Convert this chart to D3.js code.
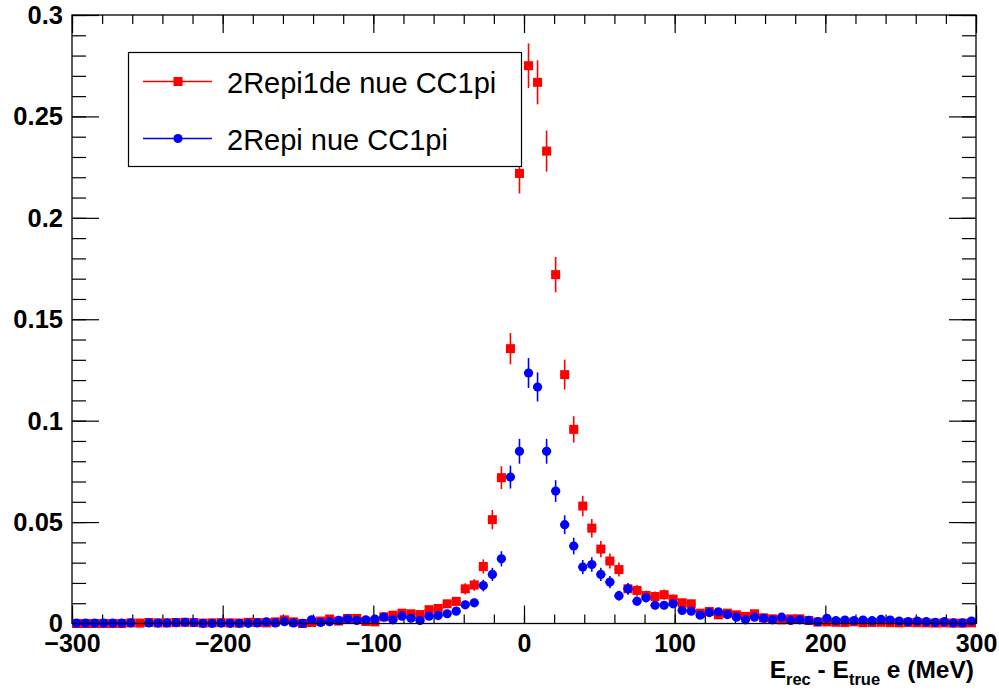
<!DOCTYPE html>
<html><head><meta charset="utf-8">
<script src="https://cdn.jsdelivr.net/npm/d3@7"></script>
<style>
body{margin:0;background:#fff;}
svg{display:block;font-family:"Liberation Sans",Arial,Helvetica,sans-serif;}
</style>
</head><body>
<svg id="chart" width="999" height="690"></svg>
<script>
// ---- data ----
const binLow = -300, binWidth = 6, nBins = 100;
const binCenters = d3.range(nBins).map(i => binLow + binWidth * (i + 0.5));

const redName = "2Repi1de nue CC1pi";
const redValues = [
  0, 0, 0, 0, 0, 0, 0.0003, 0.0002, 0.0005, 0.0003, 0.0003, 0.0005, 0.0006, 0.0005,
  0.0002, 0.0003, 0.0004, 0.0003, 0.0002, 0.0006, 0.0005, 0.0003, 0.0008, 0.0018,
  0.0008, 0.0, 0.0005, 0.0012, 0.0022, 0.0012, 0.0025, 0.0025, 0.001, 0.0008,
  0.0033, 0.0041, 0.0051, 0.0048, 0.0044, 0.0068, 0.0074, 0.0097, 0.0109, 0.0171,
  0.019, 0.0281, 0.0512, 0.0719, 0.1355, 0.2219, 0.275, 0.2668, 0.2329, 0.172,
  0.1227, 0.0957, 0.0579, 0.047, 0.0367, 0.0308, 0.0266, 0.0171, 0.0163, 0.0138,
  0.0133, 0.0142, 0.012, 0.0102, 0.0097, 0.0051, 0.0059, 0.0043, 0.0051, 0.0043,
  0.0035, 0.0048, 0.0028, 0.0023, 0.0018, 0.0023, 0.0023, 0.0015, 0.0007,
  0.0008, 0.0006, 0.0005, 0.0008, 0.0004, 0.0005, 0.0006, 0.0004, 0.0003, 0.0005,
  0.0004, 0.0003, 0.0002, 0.0003, 0.0002, 0.0002, 0.0003
];

const blueName = "2Repi nue CC1pi";
const blueValues = [
  0.0002, 0.0002, 0.0002, 0.0002, 0.0002, 0.0002, 0.0003, null, 0.0003, 0.0002, 0.0003, 0.0004, 0.0006, 0.0005,
  0.0001, 0.0001, 0.0002, 0.0001, 0.0001, 0.0001, 0.0003, 0.0008, 0.0003, 0.0009,
  0.0003, 0.0001, 0.0018, 0.0005, 0.0009, 0.0015, 0.0022, 0.0015, 0.0018, 0.0022,
  0.0031, 0.0018, 0.0036, 0.0026, 0.0015, 0.0036, 0.0039, 0.0048, 0.0061, 0.0092,
  0.0102, 0.0187, 0.0242, 0.0319, 0.0722, 0.0849, 0.1235, 0.1166, 0.0849, 0.0653,
  0.0487, 0.0382, 0.0278, 0.0291, 0.0242, 0.0204, 0.0137, 0.0171, 0.011, 0.0127,
  0.009, 0.009, 0.0097, 0.0064, 0.0061, 0.0041, 0.0054, 0.0058, 0.0044, 0.0031,
  0.0018, 0.0031, 0.0026, 0.0018, 0.0031, 0.0015, 0.0018, 0.0015, 0.0009,
  0.0026, 0.0014, 0.0017, 0.0014, 0.0017, 0.0014, 0.002, 0.0017, 0.0012, 0.0009,
  0.0012, 0.0009, 0.0006, 0.0009, 0.0003, 0.0003, 0.0012
];

// Poisson-like error normalisation (error = errNorm * sqrt(value))
const errNorm = 0.021;

const xMajorTicks = [-300, -200, -100, 0, 100, 200, 300];
const xTickLabels = ["\u2212300", "\u2212200", "\u2212100", "0", "100", "200", "300"];
const yMajorTicks = [0, 0.05, 0.1, 0.15, 0.2, 0.25, 0.3];
const yTickLabels = ["0", "0.05", "0.1", "0.15", "0.2", "0.25", "0.3"];

// ---- layout ----
const L = 72, R = 976, T = 15, B = 623.5;
const svg = d3.select("#chart");
const x = d3.scaleLinear().domain([-300, 300]).range([L, R]);
const y = d3.scaleLinear().domain([0, 0.3]).range([B, T]);

const xMinor = d3.range(-300, 300.1, 20);
const yMinor = d3.range(0, 0.3001, 0.01);

function drawTicks(g, axis) {
  g.call(axis); g.select(".domain").remove();
  g.selectAll("line").attr("stroke", "#000").attr("stroke-width", 1.2);
  g.selectAll("text").remove();
}
svg.append("g").attr("transform", `translate(0,${B})`).call(drawTicks, d3.axisBottom(x).tickValues(xMinor).tickSize(-9));
svg.append("g").attr("transform", `translate(0,${B})`).call(drawTicks, d3.axisBottom(x).tickValues(xMajorTicks).tickSize(-18));
svg.append("g").attr("transform", `translate(0,${T})`).call(drawTicks, d3.axisTop(x).tickValues(xMinor).tickSize(-9));
svg.append("g").attr("transform", `translate(0,${T})`).call(drawTicks, d3.axisTop(x).tickValues(xMajorTicks).tickSize(-18));
svg.append("g").attr("transform", `translate(${L},0)`).call(drawTicks, d3.axisLeft(y).tickValues(yMinor).tickSize(-14));
svg.append("g").attr("transform", `translate(${L},0)`).call(drawTicks, d3.axisLeft(y).tickValues(yMajorTicks).tickSize(-27));
svg.append("g").attr("transform", `translate(${R},0)`).call(drawTicks, d3.axisRight(y).tickValues(yMinor).tickSize(-14));
svg.append("g").attr("transform", `translate(${R},0)`).call(drawTicks, d3.axisRight(y).tickValues(yMajorTicks).tickSize(-27));

// tick labels
const xl = svg.append("g").attr("transform", `translate(0,${B})`)
  .call(d3.axisBottom(x).tickValues(xMajorTicks).tickSize(0).tickPadding(0).tickFormat((d, i) => xTickLabels[i]));
xl.select(".domain").remove();
xl.selectAll("text").attr("font-size", 25).attr("font-weight", "bold").attr("fill", "#000")
  .attr("font-family", "Liberation Sans, Arial, sans-serif").attr("dy", null).attr("y", 28.5);

const yl = svg.append("g").attr("transform", `translate(${L},0)`)
  .call(d3.axisLeft(y).tickValues(yMajorTicks).tickSize(0).tickPadding(9).tickFormat((d, i) => yTickLabels[i]));
yl.select(".domain").remove();
yl.selectAll("text").attr("font-size", 25.5).attr("font-weight", "bold").attr("fill", "#000")
  .attr("font-family", "Liberation Sans, Arial, sans-serif").attr("dy", "0.33em");

// axis title
const title = svg.append("text").attr("x", R - 2).attr("y", 678).attr("text-anchor", "end")
  .attr("font-size", 24.5).attr("font-weight", "bold").attr("fill", "#000");
title.append("tspan").text("E");
title.append("tspan").attr("font-size", 16.5).attr("dy", 7).text("rec");
title.append("tspan").attr("dy", -7).text(" - E");
title.append("tspan").attr("font-size", 16.5).attr("dy", 7).text("true");
title.append("tspan").attr("dy", -7).text(" e (MeV)");

// ---- data series ----
function drawSeries(values, color, shape) {
  const pts = binCenters.map((c, i) => ({ c, v: values[i] })).filter(d => d.v !== null);
  const g = svg.append("g");
  g.selectAll("line.xe").data(pts).join("line")
    .attr("x1", d => x(d.c - binWidth / 2)).attr("x2", d => x(d.c + binWidth / 2))
    .attr("y1", d => y(d.v)).attr("y2", d => y(d.v))
    .attr("stroke", color).attr("stroke-width", 1.5);
  g.selectAll("line.ye").data(pts).join("line")
    .attr("x1", d => x(d.c)).attr("x2", d => x(d.c))
    .attr("y1", d => y(Math.max(0, d.v - errNorm * Math.sqrt(d.v))))
    .attr("y2", d => y(d.v + errNorm * Math.sqrt(d.v)))
    .attr("stroke", color).attr("stroke-width", 1.6);
  if (shape === "square") {
    g.selectAll("rect").data(pts).join("rect")
      .attr("x", d => x(d.c) - 4.5).attr("y", d => y(d.v) - 4.5)
      .attr("width", 9).attr("height", 9).attr("fill", color);
  } else {
    g.selectAll("circle").data(pts).join("circle")
      .attr("cx", d => x(d.c)).attr("cy", d => y(d.v)).attr("r", 4.6).attr("fill", color);
  }
}
drawSeries(redValues, "#ff0000", "square");
drawSeries(blueValues, "#0000ff", "circle");

// frame
svg.append("rect").attr("x", L).attr("y", T).attr("width", R - L).attr("height", B - T)
  .attr("fill", "none").attr("stroke", "#000").attr("stroke-width", 1.3);

// ---- legend ----
const lg = svg.append("g");
lg.append("rect").attr("x", 128.5).attr("y", 52.5).attr("width", 393).attr("height", 114)
  .attr("fill", "#fff").attr("stroke", "#000").attr("stroke-width", 1.2);
const entries = [
  { name: redName, color: "#ff0000", shape: "square", yy: 81.5 },
  { name: blueName, color: "#0000ff", shape: "circle", yy: 138.5 }
];
entries.forEach(e => {
  lg.append("line").attr("x1", 143).attr("x2", 212).attr("y1", e.yy).attr("y2", e.yy)
    .attr("stroke", e.color).attr("stroke-width", 1.3);
  if (e.shape === "square") lg.append("rect").attr("x", 178 - 4.5).attr("y", e.yy - 4.5).attr("width", 9).attr("height", 9).attr("fill", e.color);
  else lg.append("circle").attr("cx", 178).attr("cy", e.yy).attr("r", 4.6).attr("fill", e.color);
  lg.append("text").attr("x", 227).attr("y", e.yy + 11.5).attr("font-size", 29).attr("fill", "#000").text(e.name);
});
</script>
</body></html>
